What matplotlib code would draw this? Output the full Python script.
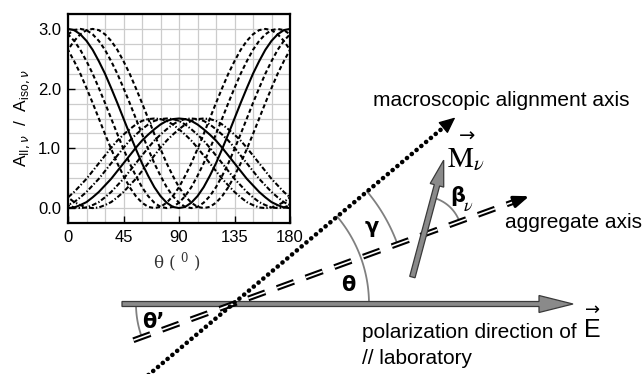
import numpy as np
import matplotlib
matplotlib.use('Agg')
import matplotlib.pyplot as plt
from matplotlib.ticker import MultipleLocator

plt.rcParams['font.family'] = ['Liberation Sans', 'DejaVu Sans']
plt.rcParams['lines.scale_dashes'] = False

# ---- data (values every 5 deg, 0..90) ----
theta_half = [0, 5, 10, 15, 20, 25, 30, 35, 40, 45, 50, 55, 60, 65, 70, 75, 80, 85, 90]
ratio_parallel = [3.00, 2.98, 2.91, 2.80, 2.65, 2.46, 2.25, 2.01, 1.76, 1.50,
                  1.24, 0.99, 0.75, 0.54, 0.35, 0.20, 0.09, 0.02, 0.00]
ratio_perp = [0.00, 0.01, 0.05, 0.10, 0.18, 0.27, 0.38, 0.49, 0.62, 0.75,
              0.88, 1.01, 1.13, 1.23, 1.32, 1.40, 1.46, 1.49, 1.50]
peak_shifts = [0, 10, 20, -10, -20]   # offsets of the curve families (deg)
xticks = [0, 45, 90, 135, 180]
yticks = [0.0, 1.0, 2.0, 3.0]

# ---- geometry of the sketch (angles in deg, lengths in px) ----
theta = 20      # aggregate axis vs. polarization
gamma = 20      # alignment axis vs. aggregate axis
beta = 55       # transition moment vs. aggregate axis
O = np.array([233.0, 70.0])


def ray(ang, length, start=O):
    a = np.radians(ang)
    return start + length * np.array([np.cos(a), np.sin(a)])


def full_curve(vals):
    # mirror 0..90 to 0..180, then repeat one period each side
    v = np.array(vals + vals[-2::-1])
    t = np.arange(len(v)) * 5.0
    return np.concatenate([t - 180, t[1:], t[1:] + 180]), np.concatenate([v, v[1:], v[1:]])


fig = plt.figure(figsize=(6.44, 3.74), dpi=100)
ax = fig.add_axes([0, 0, 1, 1])
ax.set_xlim(0, 644)
ax.set_ylim(0, 374)
ax.axis('off')

gray = '#8a8a8a'
edge = '#3a3a3a'
arcc = '#808080'

# polarization arrow
p_start = ray(180, 111)
ax.arrow(p_start[0], p_start[1], 451, 0, width=5, head_width=17, head_length=34,
         length_includes_head=True, fc=gray, ec=edge, lw=0.9, zorder=2)

# angle arcs
def arc(center, r, a0, a1):
    a = np.radians(np.linspace(a0, a1, 60))
    ax.plot(center[0] + r * np.cos(a), center[1] + r * np.sin(a), color=arcc, lw=1.3, zorder=1)

arc(O, 136, 0, theta + gamma)
arc(O, 175, theta, theta + gamma)
arc(O, 97, 180, 180 + theta)
P = ray(theta, 203)
arc(P, 38, theta, theta + beta)

# aggregate axis: double dashed line
a0 = ray(180 + theta, 106)
a1 = ray(theta, 304)
ax.plot([a0[0], a1[0]], [a0[1], a1[1]], color='k', lw=4.2, dashes=(13, 9), zorder=3)
ax.plot([a0[0], a1[0]], [a0[1], a1[1]], color='w', lw=1.2, dashes=(13, 9), zorder=3)
ax.annotate('', xy=ray(theta, 318), xytext=ray(theta, 302),
            arrowprops=dict(arrowstyle='-|>,head_length=0.9,head_width=0.35', color='k', lw=2.2),
            zorder=3)

# macroscopic alignment axis: dotted
d0 = ray(180 + theta + gamma, 120)
d1 = ray(theta + gamma, 282)
ax.plot([d0[0], d1[0]], [d0[1], d1[1]], color='k', lw=3.3, dashes=(0.1, 4.4),
        dash_capstyle='round', zorder=4)
ax.annotate('', xy=ray(theta + gamma, 293), xytext=ray(theta + gamma, 278),
            arrowprops=dict(arrowstyle='-|>,head_length=1.0,head_width=0.45', color='k', lw=1.0),
            zorder=4)

# transition moment M
m_tail = ray(theta + beta + 180, 44, P)
m_tip = ray(theta + beta, 77, P)
ax.arrow(m_tail[0], m_tail[1], *(m_tip - m_tail), width=5.5, head_width=14, head_length=26,
         length_includes_head=True, fc=gray, ec=edge, lw=0.9, zorder=5)

# labels
fs = 15
ax.text(373, 274, 'macroscopic alignment axis', fontsize=fs, va='center', ha='left')
ax.text(505, 152, 'aggregate axis', fontsize=fs, va='center', ha='left')
ax.text(362, 42, 'polarization direction of', fontsize=fs, va='center', ha='left')
ax.text(362, 16, '// laboratory', fontsize=fs, va='center', ha='left')
ax.text(592, 44, 'E', fontsize=18, va='center', ha='center')
ax.text(593, 64, '\u2192', fontsize=13, va='center', ha='center', family='DejaVu Sans')
ax.text(447, 215, r'$\mathrm{M}_{\nu}$', fontsize=21, va='center', ha='left', math_fontfamily='stix')
ax.text(467, 238, '\u2192', fontsize=14, va='center', ha='center', family='DejaVu Sans')
ax.text(450, 178, '\u03b2', fontsize=15, fontweight='bold', va='center', ha='left', family='DejaVu Sans')
ax.text(463, 168, r'$\nu$', fontsize=13, va='center', ha='left', math_fontfamily='stix')
ax.text(372, 147, '\u03b3', fontsize=15, fontweight='bold', va='center', ha='center', family='DejaVu Sans')
ax.text(348, 89, '\u03b8', fontsize=15, fontweight='bold', va='center', ha='center', family='DejaVu Sans')
ax.text(153, 52, '\u03b8\u2019', fontsize=15, fontweight='bold', va='center', ha='center', family='DejaVu Sans')

# ---- inset chart ----
axin = fig.add_axes([68 / 644, 1 - 223 / 374, 222 / 644, 209 / 374])
axin.set_xlim(0, 180)
axin.set_ylim(-0.25, 3.25)

tu, vu = full_curve(ratio_parallel)
tl, vl = full_curve(ratio_perp)
for s in peak_shifts:
    if s == 0:
        axin.plot(tu, vu, color='k', lw=1.5)
        axin.plot(tl, vl, color='k', lw=1.5)
    else:
        axin.plot(tu + s, vu, color='k', lw=1.5, dashes=(3, 2))
        axin.plot(tl + s, vl, color='k', lw=1.5, dashes=(3.5, 1.5, 1, 1.5))

axin.set_xticks(xticks)
axin.set_yticks(yticks)
axin.set_yticklabels(['%.1f' % v for v in yticks])
axin.xaxis.set_minor_locator(MultipleLocator(15))
axin.yaxis.set_minor_locator(MultipleLocator(0.25))
axin.grid(which='both', color='#cccccc', lw=0.9)
axin.set_axisbelow(True)
axin.tick_params(which='major', direction='in', length=5, width=1, labelsize=12, pad=5)
axin.tick_params(which='minor', length=0)
for sp in axin.spines.values():
    sp.set_linewidth(1.6)
axin.set_ylabel(r'A$_{\mathregular{II},\nu}$  /  A$_{\mathregular{iso},\nu}$', fontsize=12.5, labelpad=4)
fig.text(177 / 644, 1 - 263 / 374, '\u03b8 ( $^{0}$ )', fontsize=12, ha='center', va='center',
         color='#333333', family='DejaVu Serif', math_fontfamily='dejavuserif')

fig.savefig('out.png', dpi=100)
